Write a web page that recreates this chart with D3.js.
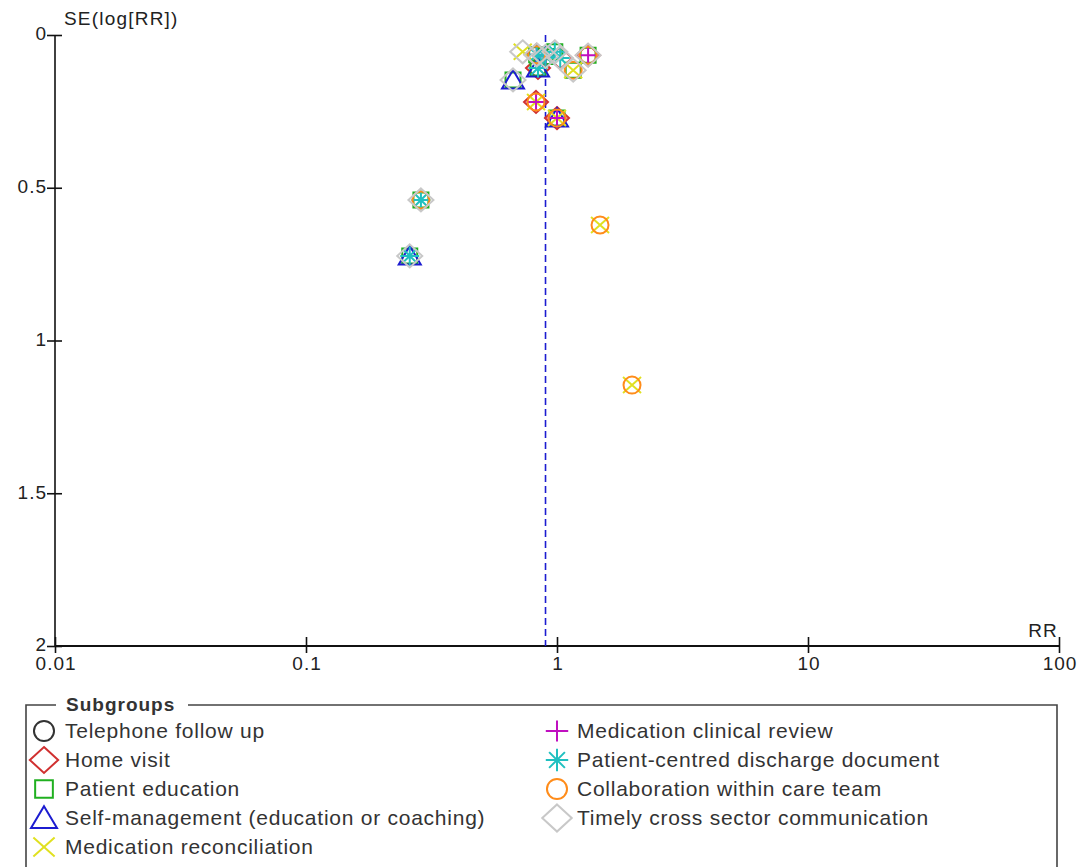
<!DOCTYPE html>
<html>
<head>
<meta charset="utf-8">
<script src="https://cdn.jsdelivr.net/npm/d3@7"></script>
<style>
  html, body { margin: 0; padding: 0; background: #fff; }
  svg { display: block; }
  .tick text { font-family: "Liberation Sans", Arial, sans-serif; font-size: 19px; letter-spacing: 1px; fill: #222; }
  .lab { font-family: "Liberation Sans", Arial, sans-serif; font-size: 19px; letter-spacing: 1.2px; fill: #222; }
  .leg { font-family: "Liberation Sans", Arial, sans-serif; font-size: 21px; letter-spacing: 0.75px; fill: #333; }
</style>
</head>
<body>
<svg id="chart" width="1088" height="867"></svg>
<script>
// Subgroups shown in the funnel plot
const subgroups = [
  "Telephone follow up",
  "Home visit",
  "Patient education",
  "Self-management (education or coaching)",
  "Medication reconciliation",
  "Medication clinical review",
  "Patient-centred discharge document",
  "Collaboration within care team",
  "Timely cross sector communication"
];

// Per-study risk ratio and standard error of log(RR)
const studyRR = [0.73, 0.83, 0.84, 0.98, 1.03, 0.90, 1.33, 1.16, 0.668, 0.825, 1.00, 0.287, 0.259, 1.484, 1.99];
const studySE = [0.055, 0.065, 0.108, 0.055, 0.075, 0.07, 0.066, 0.115, 0.147, 0.219, 0.272, 0.540, 0.723, 0.622, 1.146];
// Subgroups each study contributes to (indices into subgroups)
const studyGroups = [
  [4, 8],
  [0, 1, 2, 5, 6, 7, 8],
  [1, 2, 3, 6],
  [2, 6, 8],
  [1, 6, 8],
  [0, 2, 5, 6, 8],
  [1, 2, 5, 7, 8],
  [2, 4, 7, 8],
  [2, 3, 8],
  [1, 4, 5, 7],
  [1, 2, 3, 4, 5, 7],
  [2, 6, 7, 8],
  [2, 3, 6, 8],
  [4, 7],
  [4, 7]
];

// Pooled estimate (vertical reference line)
const pooledRR = 0.90;

// Axis ticks
const xTicks = [0.01, 0.1, 1, 10, 100];
const xTickLabels = ["0.01", "0.1", "1", "10", "100"];
const yTicks = [0, 0.5, 1, 1.5, 2];
const yTickLabels = ["0", "0.5", "1", "1.5", "2"];

// Marker styling per subgroup
const symColors = ["#333333", "#d03030", "#20b020", "#1c1cd0", "#e0e020", "#c010c0", "#20c0c0", "#ff8c1a", "#c8c8c8"];
const symKinds = ["circle", "diamond", "square", "triangle", "x", "plus", "asterisk", "circle", "diamondL"];

const svg = d3.select("#chart");

const x = d3.scaleLog().domain([0.01, 100]).range([55, 1059]);
const y = d3.scaleLinear().domain([0, 2]).range([35, 646]);

// Symbol outlines; k scales the marker (legend keys are drawn a little larger)
function symbolPath(kind, k) {
  const p = d3.path();
  switch (kind) {
    case "circle":
      p.arc(0, 0, 8.5 * k, 0, 2 * Math.PI); break;
    case "diamond":
      p.moveTo(0, -11 * k); p.lineTo(12 * k, 0); p.lineTo(0, 11 * k); p.lineTo(-12 * k, 0); p.closePath(); break;
    case "diamondL":
      p.moveTo(0, -11.5 * k); p.lineTo(12.5 * k, 0); p.lineTo(0, 11.5 * k); p.lineTo(-12.5 * k, 0); p.closePath(); break;
    case "square":
      p.rect(-7.5 * k, -7.5 * k, 15 * k, 15 * k); break;
    case "triangle":
      p.moveTo(0, -10 * k); p.lineTo(11 * k, 8.5 * k); p.lineTo(-11 * k, 8.5 * k); p.closePath(); break;
    case "x":
      p.moveTo(-9 * k, -8 * k); p.lineTo(9 * k, 8 * k); p.moveTo(9 * k, -8 * k); p.lineTo(-9 * k, 8 * k); break;
    case "plus":
      p.moveTo(-9.5 * k, 0); p.lineTo(9.5 * k, 0); p.moveTo(0, -9 * k); p.lineTo(0, 9 * k); break;
    case "asterisk":
      p.moveTo(-9.5 * k, 0); p.lineTo(9.5 * k, 0); p.moveTo(0, -9.5 * k); p.lineTo(0, 9.5 * k);
      p.moveTo(-6.7 * k, -6.7 * k); p.lineTo(6.7 * k, 6.7 * k); p.moveTo(6.7 * k, -6.7 * k); p.lineTo(-6.7 * k, 6.7 * k); break;
  }
  return p.toString();
}

// Y axis
const yAxis = d3.axisLeft(y).tickValues(yTicks)
  .tickFormat((d, i) => yTickLabels[i]).tickSize(8).tickPadding(0);
const gy = svg.append("g").attr("transform", `translate(${x(0.01)},0)`).call(yAxis);
gy.select(".domain").attr("stroke", "#111").attr("stroke-width", 1.6).attr("d", `M0,${y(0)}V${y(2)}`);
gy.selectAll(".tick line").attr("x1", -8).attr("x2", 7).attr("stroke", "#111").attr("stroke-width", 1.6);
gy.selectAll(".tick text").attr("dy", "0.25em");

// X axis
const xAxis = d3.axisBottom(x).tickValues(xTicks)
  .tickFormat((d, i) => xTickLabels[i]).tickSize(8).tickPadding(0);
const gx = svg.append("g").attr("transform", `translate(0,${y(2)})`).call(xAxis);
gx.select(".domain").attr("stroke", "#111").attr("stroke-width", 1.8).attr("d", `M${x(0.01)},0H${x(100)}`);
gx.selectAll(".tick line").attr("y1", -9).attr("y2", 7).attr("stroke", "#111").attr("stroke-width", 1.6);
gx.selectAll(".tick text").attr("y", 10).attr("dy", "0.75em").attr("dx", "0.03em");

// Axis titles
svg.append("text").attr("class", "lab").attr("x", 64).attr("y", 25).text("SE(log[RR])");
svg.append("text").attr("class", "lab").attr("x", x(100) - 1).attr("y", 637).attr("text-anchor", "end").text("RR");

// Pooled estimate line
svg.append("line")
  .attr("x1", x(pooledRR)).attr("x2", x(pooledRR))
  .attr("y1", y(0)).attr("y2", y(2))
  .attr("stroke", "#1c1cd0").attr("stroke-width", 1.6).attr("stroke-dasharray", "7,4");

// Study markers, drawn subgroup by subgroup
const points = [];
subgroups.forEach((g, gi) => {
  studyRR.forEach((rr, si) => {
    if (studyGroups[si].includes(gi)) points.push({ rr, se: studySE[si], gi });
  });
});
svg.append("g").selectAll("path").data(points).join("path")
  .attr("transform", d => `translate(${x(d.rr)},${y(d.se)})`)
  .attr("d", d => symbolPath(symKinds[d.gi], 1))
  .attr("fill", "none")
  .attr("stroke", d => symColors[d.gi])
  .attr("stroke-width", 2);

// Legend
const legend = svg.append("g");
legend.append("path")
  .attr("d", "M56,705H26V880M188,705H1057V880")
  .attr("fill", "none").attr("stroke", "#444").attr("stroke-width", 1.6);
legend.append("text").attr("class", "leg").attr("x", 66).attr("y", 711)
  .attr("font-weight", "bold").style("font-size", "19px").style("letter-spacing", "1px").text("Subgroups");

const legItems = legend.selectAll("g.item").data(subgroups).join("g")
  .attr("class", "item")
  .attr("transform", (d, i) => i < 5
    ? `translate(44,${731 + i * 29})`
    : `translate(557,${731 + (i - 5) * 29})`);
legItems.append("path")
  .attr("d", (d, i) => symbolPath(symKinds[i], 1.18))
  .attr("fill", "none").attr("stroke", (d, i) => symColors[i]).attr("stroke-width", 2);
legItems.append("text").attr("class", "leg")
  .attr("x", (d, i) => i < 5 ? 21 : 20).attr("y", 7).text(d => d);
</script>
</body>
</html>
